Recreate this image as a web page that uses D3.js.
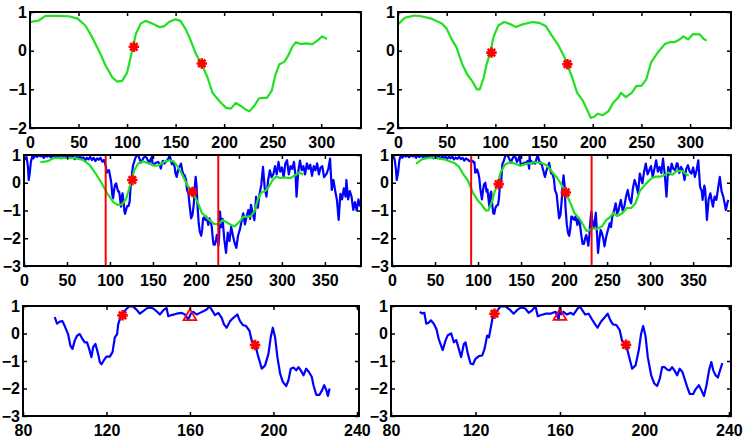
<!DOCTYPE html>
<html>
<head>
<meta charset="utf-8">
<script src="https://cdn.jsdelivr.net/npm/d3@7"></script>
<style>
  body { margin: 0; background: #fff; }
  text { font-family: "Liberation Sans", Arial, sans-serif; font-weight: bold; font-size: 16px; }
</style>
</head>
<body>
<div id="chart"></div>
<script>
// smoothed curves (top row) as [x, y]
let greenA = [[0,0.74],[9,0.78],[16,0.9],[26,0.9],[40,0.89],[49,0.83],[57,0.65],[64,0.35],[71,0],[78,-0.39],[85,-0.7],[90,-0.8],[95,-0.78],[100,-0.57],[106,0.09],[109,0.43],[114,0.7],[119,0.77],[126,0.7],[133,0.61],[138,0.63],[143,0.74],[150,0.81],[155,0.77],[160,0.57],[165,0.3],[171,-0.09],[177,-0.35],[183,-0.7],[188,-1.09],[195,-1.3],[202,-1.48],[207,-1.5],[212,-1.35],[217,-1.43],[222,-1.52],[226,-1.57],[231,-1.43],[236,-1.23],[241,-1.22],[244,-1.22],[249,-1.04],[253,-0.61],[257,-0.35],[262,-0.29],[266,-0.13],[270,0.09],[274,0.22],[279,0.17],[284,0.19],[291,0.17],[296,0.26],[301,0.37],[306,0.3]];
let greenB = [[0,0.68],[7,0.85],[17,0.91],[24,0.89],[34,0.83],[45,0.7],[50,0.57],[55,0.3],[60,0.09],[66,-0.35],[71,-0.61],[76,-0.78],[81,-1.0],[84,-1.0],[88,-0.7],[91,-0.35],[95,-0.04],[98,0.35],[103,0.65],[109,0.74],[114,0.7],[121,0.61],[128,0.68],[138,0.74],[145,0.72],[152,0.63],[159,0.35],[164,0.17],[171,-0.17],[174,-0.37],[179,-0.7],[184,-1.09],[190,-1.3],[195,-1.57],[198,-1.74],[202,-1.7],[205,-1.63],[210,-1.67],[216,-1.57],[221,-1.35],[226,-1.22],[229,-1.09],[234,-1.2],[240,-1.09],[245,-0.91],[250,-0.91],[255,-0.74],[260,-0.3],[267,-0.04],[274,0.17],[279,0.22],[284,0.22],[290,0.3],[293,0.37],[298,0.29],[303,0.43],[310,0.42],[314,0.3],[317,0.26]];
let starsA = [[107,0.1],[177,-0.33]];
let starsB = [[96,-0.05],[174,-0.35]];

// lag of the smoothed curve in the middle row
let lagA = 19;
let lagB = 28;

// raw signal (middle row), cut into: before window, window (bottom row), after window
let blueLeftA = [[0,0.9],[1.5,0.85],[3,0.92],[4.5,0.6],[5.5,0.1],[6.5,0.3],[8,0.75],[9.5,0.95],[11,0.88],[13,1],[15,0.93],[17,1],[19,0.95],[21,0.99],[23,0.9],[25,0.98],[27,0.94],[29,1],[31,0.92],[33,0.97],[35,0.9],[37,0.98],[39,0.93],[41,0.99],[43,0.88],[45,0.96],[47,0.91],[49,0.98],[51,0.87],[53,0.95],[55,0.9],[57,0.97],[59,0.85],[61,0.93],[63,0.88],[65,0.96],[67,0.86],[69,0.92],[71,0.8],[73,0.9],[75,0.84],[77,0.93],[79,0.82],[81,0.9],[83,0.78],[85,0.88],[87,0.83],[89,0.9],[91,0.76],[93,0.82]];
let windowA = [[95.2,0.6],[96.3,0.36],[97.6,0.43],[98.9,0.45],[100,0.27],[101.6,-0.02],[102.7,-0.44],[103.7,-0.56],[104.8,-0.26],[105.9,-0.08],[107.2,-0.02],[108.5,-0.2],[109.6,-0.32],[110.7,-0.32],[111.7,-0.56],[112.8,-0.86],[113.6,-0.5],[114.7,-0.38],[116,-0.74],[116.8,-1.04],[117.6,-1.12],[118.7,-0.98],[120,-0.84],[121.6,-0.84],[122.9,-0.68],[124,-0.14],[125.1,-0.02],[125.6,0.33],[126.9,0.63],[129.3,0.87],[130.9,0.99],[132.5,0.99],[134.4,0.87],[136,0.72],[137.6,0.81],[139.2,0.91],[140.8,0.95],[142.4,0.91],[144,0.81],[145.6,0.69],[147.2,0.84],[148.8,0.93],[149.6,0.63],[151.2,0.67],[153.6,0.72],[156,0.75],[157.6,0.69],[159.2,0.51],[160.4,0.72],[161.6,0.79],[163.2,0.69],[164.8,0.75],[166.4,0.81],[168,0.87],[169.3,0.99],[170.4,0.87],[172,0.67],[173.6,0.75],[175.2,0.57],[176.3,0.33],[177.6,0.21],[179.2,0.45],[180.8,0.57],[182.7,0.69],[184,0.45],[185.3,0.31],[186.9,0.27],[188.5,0.1],[189.6,-0.26],[191.2,-0.38],[192.8,-0.86],[194.4,-1.28],[196,-1.16],[197.6,-0.74],[198.7,-0.14],[199.7,0.21],[200.8,-0.14],[201.9,-0.86],[203.2,-1.46],[204.5,-1.76],[206.1,-1.91],[207.2,-1.7],[208.3,-1.28],[209.6,-1.24],[210.9,-1.34],[212,-1.22],[213.1,-1.34],[214.4,-1.52],[215.7,-1.28],[217,-1.4],[218.4,-1.58],[219.2,-1.88],[220.5,-2.23],[222.1,-2.23],[223.4,-2.05],[224.3,-1.88],[225.3,-2.05],[226.1,-2.27],[226.9,-2.0]];
let blueRightA = [[228,-1.04],[229.5,-1.6],[231,-1.3],[233,-2.05],[235,-2.53],[237,-1.8],[239,-2.1],[241,-1.58],[243,-1.9],[245,-2.17],[247,-2.35],[249,-1.9],[251,-1.7],[253,-1.4],[255,-1.1],[257,-1.5],[259,-1.2],[261,-0.98],[263,-1.3],[264,-0.8],[266,-1.1],[268,-1.35],[270,-0.5],[272,-0.9],[274,-0.4],[276,-0.08],[278,0.57],[280,-0.2],[282,-0.5],[284,0.1],[286,0.45],[288,0.2],[290,0.3],[292,0.6],[294,0.3],[296,0.75],[298,0.4],[300,0.55],[302,0.2],[304,0.7],[306,0.81],[308,0.3],[310,0.6],[312,0.5],[314,0.75],[316,0.2],[317,-0.5],[319,0.4],[321,0.8],[323,0.45],[325,0.6],[327,0.3],[329,0.7],[331,0.5],[333,0.65],[335,0.25],[337,0.6],[339,0.45],[341,0.7],[343,0.3],[345,0.55],[347,0.6],[349,0.2],[352,0.33],[354,0.5],[356,0.87],[358,-0.26],[360,0.1],[362,-0.3],[364,-0.62],[366,-1.34],[368,-0.4],[370,-0.6],[372,-0.2],[374,-0.5],[375,0.1],[377,-0.6],[379,-0.3],[381,-0.5],[383,-0.98],[385,-0.7],[387,-1.0],[389,-0.6],[391,-0.86]];

let blueLeftB = [[0,0.9],[1.5,0.95],[3,0.85],[4.5,0.5],[5.5,0.1],[7,0.35],[8.5,0.8],[10,0.97],[12,0.9],[14,1],[16,0.94],[18,0.99],[20,0.92],[22,1],[24,0.95],[26,0.98],[28,0.9],[30,0.97],[32,0.93],[34,1],[36,0.91],[38,0.97],[40,0.9],[42,0.98],[44,0.92],[46,0.96],[48,0.88],[50,0.95],[52,0.9],[54,0.97],[56,0.87],[58,0.94],[60,0.89],[62,0.95],[64,0.86],[66,0.93],[68,0.88],[70,0.95],[72,0.84],[74,0.91],[76,0.86],[78,0.93],[80,0.85],[82,0.9],[84,0.8],[86,0.88],[88,0.83],[90,0.78],[91,0.8]];
let windowB = [[93.6,0.79],[94.7,0.73],[95.8,0.75],[96.7,0.36],[97.8,0.39],[98.9,0.48],[100.2,0.36],[101.5,0.16],[102.6,-0.2],[103.7,-0.44],[104.5,-0.6],[105.8,-0.26],[106.9,-0.06],[108.5,0],[109.8,-0.32],[110.9,-0.24],[112.1,-0.56],[113.2,-0.86],[114.5,-0.38],[115.3,-0.32],[116.4,-0.74],[117.7,-1.1],[118.9,-1.12],[120,-0.92],[121.6,-0.82],[123.2,-0.8],[124.3,-0.56],[125.5,-0.08],[126.4,-0.14],[127.4,0.27],[128.3,0.67],[130.2,0.81],[131.8,0.99],[134.2,0.99],[136.2,0.87],[138.1,0.72],[140,0.87],[141.6,0.95],[143.6,0.91],[145.2,0.75],[146.8,0.84],[148.4,0.99],[149.5,0.63],[151.1,0.67],[153.2,0.72],[155.5,0.72],[157.9,0.79],[159.4,0.51],[160,0.99],[160.6,0.7],[161.7,0.79],[163.2,0.69],[165.1,0.75],[166.4,0.69],[168,0.87],[169.3,0.99],[170.4,0.87],[172,0.69],[173.6,0.72],[175.2,0.51],[176.7,0.33],[177.8,0.21],[179.4,0.43],[181,0.57],[182.6,0.72],[183.9,0.48],[185.1,0.33],[186.7,0.31],[188.3,0.12],[189.4,-0.26],[191.3,-0.41],[192.6,-0.8],[194.2,-1.28],[195.8,-1.16],[197.3,-0.62],[198.4,-0.02],[199.4,0.27],[200.5,-0.08],[201.6,-0.86],[203.2,-1.52],[204.7,-1.82],[206,-1.91],[207.3,-1.64],[208.4,-1.22],[209.5,-1.22],[210.7,-1.31],[212,-1.34],[213.1,-1.22],[214.2,-1.34],[215.5,-1.52],[216.7,-1.28],[218,-1.4],[219,-1.64],[220.2,-1.93],[221.5,-2.2],[223.1,-2.2],[224.2,-2.03],[225.8,-1.88],[226.9,-2.05],[228.2,-2.27],[229.4,-1.88],[230.6,-1.34],[231.7,-1.04],[232.6,-1.34],[233.7,-1.52],[234.8,-1.6],[235.8,-1.34],[236.9,-1.08]];
let blueRightB = [[238,-1.7],[239.5,-2.53],[241,-2.05],[242.5,-1.7],[244,-1.82],[245.5,-2.0],[247,-2.29],[249,-1.94],[251,-1.7],[253,-1.46],[254.5,-1.6],[256,-1.22],[258,-1.0],[260,-0.74],[261.5,-1.1],[263,-1.04],[264.5,-0.8],[266,-0.62],[268,-1.0],[270,-0.86],[272,-0.5],[274,-0.26],[276,-0.6],[278,-0.74],[280,-0.2],[282,0.1],[284,-0.1],[286,-0.38],[288,0.33],[290,0.1],[291,-0.02],[293,0.4],[295,0.69],[297,0.3],[299,0.45],[301,0.6],[303,0.21],[305,0.5],[307,0.81],[309,0.4],[311,0.57],[313,0.35],[315,0.87],[317,0.3],[319,-0.5],[321,0.57],[323,0.3],[325,0.69],[327,0.5],[329,0.45],[331,0.7],[332,0.69],[334,0.35],[336,0.57],[338,0.45],[340,0.1],[342,0.5],[344,0.63],[346,0.4],[348,0.33],[350,0.55],[352,0.21],[354,0.45],[356,0.81],[358,-0.14],[360,-0.3],[361,-0.62],[363,-0.1],[364,-0.26],[366,-1.34],[368,-0.6],[370,-0.38],[372,-0.7],[373,-0.86],[375,-0.5],[377,-0.62],[379,-0.2],[381,0.21],[383,-0.3],[385,-0.5],[387,-0.8],[388,-0.98],[390,-0.7],[391,-0.62]];

// window edges (red lines) in the middle row
let cutsA = [95, 226];
let cutsB = [92, 232];

// bottom row markers
let starsC = [[127.7,0.66],[191.2,-0.42]];
let starsD = [[129,0.72],[191.3,-0.41]];
let triC = [[160,0.62]];
let triD = [[160,0.63]];

// tick values
let xTicksTop = [0,50,100,150,200,250,300];
let xTicksMid = [0,50,100,150,200,250,300,350];
let xTicksBot = [80,120,160,200,240];
let yTicksTop = [-2,-1,0,1];
let yTicksLow = [-3,-2,-1,0,1];

let green = "#1fe11f";
let blue = "#0000ff";
let red = "#ff0000";

function shift(arr, lag){
  return arr.map(d => [d[0] + lag, d[1]]);
}

let panels = [
  {l:30, t:12, r:361, b:128, xd:[0,341], yd:[-2,1], xt:xTicksTop, yt:yTicksTop,
   lines:[{data:greenA, color:green}], stars:starsA},
  {l:398, t:12, r:731, b:128, xd:[0,342], yd:[-2,1], xt:xTicksTop, yt:yTicksTop,
   lines:[{data:greenB, color:green}], stars:starsB},
  {l:24, t:155, r:361, b:266, xd:[0,392], yd:[-3,1], xt:xTicksMid, yt:yTicksLow,
   lines:[{data:blueLeftA.concat(windowA, blueRightA), color:blue}, {data:shift(greenA, lagA), color:green}],
   cuts:cutsA, stars:shift(starsA, lagA)},
  {l:392, t:155, r:731, b:266, xd:[0,394], yd:[-3,1], xt:xTicksMid, yt:yTicksLow,
   lines:[{data:blueLeftB.concat(windowB, blueRightB), color:blue}, {data:shift(greenB, lagB), color:green}],
   cuts:cutsB, stars:shift(starsB, lagB)},
  {l:23, t:306, r:359, b:416, xd:[80,241], yd:[-3,1], xt:xTicksBot, yt:yTicksLow,
   lines:[{data:windowA, color:blue}], stars:starsC, tris:triC},
  {l:391, t:306, r:731, b:416, xd:[80,241], yd:[-3,1], xt:xTicksBot, yt:yTicksLow,
   lines:[{data:windowB, color:blue}], stars:starsD, tris:triD}
];

// matlab style '*' marker: plus and cross
let asterisk = {
  draw(ctx, size){
    let r = Math.sqrt(size) / 2;
    let q = r * Math.SQRT1_2;
    ctx.moveTo(-r, 0); ctx.lineTo(r, 0);
    ctx.moveTo(0, -r); ctx.lineTo(0, r);
    ctx.moveTo(-q, -q); ctx.lineTo(q, q);
    ctx.moveTo(-q, q); ctx.lineTo(q, -q);
  }
};

let svg = d3.select("#chart").append("svg")
              .attr("width", 746)
              .attr("height", 440);

svg.append("rect").attr("width", 746).attr("height", 440).attr("fill", "#fff");

panels.forEach(function(p, i){
  let x = d3.scaleLinear().domain(p.xd).range([p.l, p.r]);
  let y = d3.scaleLinear().domain(p.yd).range([p.b, p.t]);
  let g = svg.append("g");

  g.append("clipPath").attr("id", "clip" + i)
    .append("rect").attr("x", p.l).attr("y", p.t).attr("width", p.r - p.l).attr("height", p.b - p.t);

  let plot = g.append("g").attr("clip-path", "url(#clip" + i + ")");

  let line = d3.line().x(d => x(d[0])).y(d => y(d[1]));

  p.lines.forEach(function(s){
    plot.append("path")
      .attr("d", line(s.data))
      .attr("fill", "none")
      .attr("stroke", s.color)
      .attr("stroke-width", 2.2)
      .attr("stroke-linejoin", "round");
  });

  if(p.cuts){
    plot.selectAll("line.cut").data(p.cuts).enter()
      .append("line")
        .attr("x1", d => x(d)).attr("x2", d => x(d))
        .attr("y1", p.t).attr("y2", p.b)
        .attr("stroke", red)
        .attr("stroke-width", 2);
  }

  g.selectAll("path.star").data(p.stars).enter()
    .append("path")
      .attr("transform", d => "translate(" + x(d[0]) + "," + y(d[1]) + ")")
      .attr("d", d3.symbol().type(asterisk).size(110))
      .attr("fill", "none")
      .attr("stroke", red)
      .attr("stroke-width", 2.6);

  if(p.tris){
    g.selectAll("path.tri").data(p.tris).enter()
      .append("path")
        .attr("transform", d => "translate(" + x(d[0]) + "," + y(d[1]) + ")")
        .attr("d", d3.symbol().type(d3.symbolTriangle).size(70))
        .attr("fill", "none")
        .attr("stroke", red)
        .attr("stroke-width", 1.8);
  }

  // axes: inward ticks on all four sides, labels bottom and left
  let fmt = d => d < 0 ? "\u2212" + Math.abs(d) : String(d);

  g.append("g").attr("transform", "translate(0," + p.b + ")")
    .call(d3.axisBottom(x).tickValues(p.xt).tickSizeInner(-4).tickSizeOuter(0).tickPadding(9).tickFormat(fmt));
  g.append("g").attr("transform", "translate(0," + p.t + ")")
    .call(d3.axisTop(x).tickValues(p.xt).tickSizeInner(-4).tickSizeOuter(0).tickFormat(""));
  g.append("g").attr("transform", "translate(" + p.l + ",0)")
    .call(d3.axisLeft(y).tickValues(p.yt).tickSizeInner(-4).tickSizeOuter(0).tickPadding(3).tickFormat(fmt));
  g.append("g").attr("transform", "translate(" + p.r + ",0)")
    .call(d3.axisRight(y).tickValues(p.yt).tickSizeInner(-4).tickSizeOuter(0).tickFormat(""));

  g.selectAll(".domain").remove();
  g.selectAll(".tick line").attr("stroke", "#000").attr("stroke-width", 1.5);
  g.selectAll(".tick text")
    .attr("fill", "#000")
    .style("font-family", "'Liberation Sans', Arial, sans-serif")
    .style("font-weight", "bold")
    .style("font-size", "16px");

  g.append("rect")
    .attr("x", p.l).attr("y", p.t)
    .attr("width", p.r - p.l).attr("height", p.b - p.t)
    .attr("fill", "none")
    .attr("stroke", "#000")
    .attr("stroke-width", 2);
});
</script>
</body>
</html>
